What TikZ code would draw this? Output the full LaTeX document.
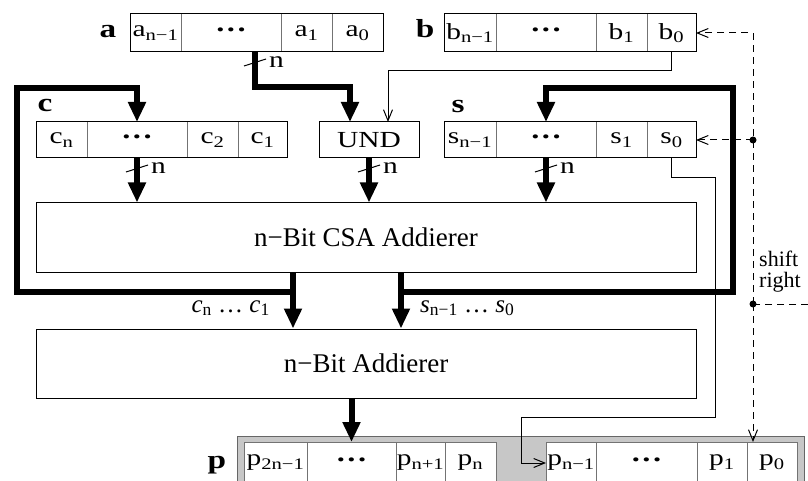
\documentclass[tikz,border=0pt]{standalone}
\usepackage{fontspec}
\setmainfont{Liberation Serif}
\newfontfamily\cellfont{Liberation Serif}[FakeStretch=1.28]
\usepackage{tikz}
\usetikzlibrary{calc,positioning,arrows.meta}
\tikzstyle{cell} = [draw=black!55, line width=1pt, fill=white, minimum height=38pt, inner sep=0pt, outer sep=0pt, font=\cellfont\fontsize{23}{25}\selectfont]
\tikzstyle{rcell} = [cell, right=0pt of #1]
\tikzstyle{regframe} = [draw, line width=1pt]
\tikzstyle{adder} = [draw, line width=1pt, minimum width=660pt, minimum height=69pt, inner sep=0pt, font=\fontsize{27}{30}\selectfont]
\tikzstyle{busline} = [line width=6pt]
\tikzstyle{bus} = [busline, -{Triangle[width=17pt,length=20pt]}]
\tikzstyle{wire} = [line width=1pt, -{Straight Barb[length=11pt,width=9pt]}]
\tikzstyle{ctrl} = [wire, dash pattern=on 7pt off 5pt]
\tikzstyle{regname} = [anchor=base, inner sep=0pt, font=\cellfont\fontsize{26}{28}\selectfont\bfseries]
\tikzstyle{lbl} = [inner sep=0pt, font=\cellfont\fontsize{23}{25}\selectfont]
\newcommand{\sub}[1]{\textsubscript{#1}}
\newcommand{\ddd}{\raisebox{2pt}{\fontsize{17}{17}\selectfont\textbullet\hspace{3pt}\textbullet\hspace{3pt}\textbullet}}
\newcommand{\nmark}[1]{\draw[line width=1pt] ($(#1)+(-11,4)$) -- ($(#1)+(11,-3)$); \node[lbl, anchor=west] at ($(#1)+(14,0)$) {n};}

\begin{document}
\begin{tikzpicture}[x=1pt, y=-1pt, line join=miter]
    \useasboundingbox (0,0) rectangle (808,481);
    \clip (0,0) rectangle (808,481);

    \node[cell, minimum width=51pt] (a3) at (155.5,33) {a\sub{n−1}};
    \node[rcell=a3, minimum width=100pt] (aD) {\ddd};
    \node[rcell=aD, minimum width=51pt] (a1) {a\sub{1}};
    \node[rcell=a1, minimum width=51pt] (a0) {a\sub{0}};
    \draw[regframe] (a3.north west) rectangle (a0.south east);
    \node[regname] (an) at (108,38) {a};

    \node[cell, minimum width=52pt] (b3) at (470,33) {b\sub{n−1}};
    \node[rcell=b3, minimum width=100pt] (bD) {\ddd};
    \node[rcell=bD, minimum width=51pt] (b1) {b\sub{1}};
    \node[rcell=b1, minimum width=49pt] (b0) {b\sub{0}};
    \draw[regframe] (b3.north west) rectangle (b0.south east);
    \node[regname] (bn) at (425,38) {b};

    \node[cell, minimum width=51pt, minimum height=36pt] (c3) at (61.5,140) {c\sub{n}};
    \node[rcell=c3, minimum width=100pt, minimum height=36pt] (cD) {\ddd};
    \node[rcell=cD, minimum width=51pt, minimum height=36pt] (c2) {c\sub{2}};
    \node[rcell=c2, minimum width=49pt, minimum height=36pt] (c1) {c\sub{1}};
    \draw[regframe] (c3.north west) rectangle (c1.south east);
    \node[regname] (cn) at (45,112) {c};

    \node[cell, draw=black, minimum width=100pt, minimum height=36pt] (und) at (369,140) {UND};

    \node[cell, minimum width=52pt, minimum height=36pt] (s3) at (470,140) {s\sub{n−1}};
    \node[rcell=s3, minimum width=100pt, minimum height=36pt] (sD) {\ddd};
    \node[rcell=sD, minimum width=51pt, minimum height=36pt] (s1) {s\sub{1}};
    \node[rcell=s1, minimum width=49pt, minimum height=36pt] (s0) {s\sub{0}};
    \draw[regframe] (s3.north west) rectangle (s0.south east);
    \node[regname] (sn) at (458,113) {s};

    \node[adder] (csa) at (366,237.5) {n−Bit CSA Addierer};
    \node[adder] (add) at (366,363.5) {n−Bit Addierer};

    \draw[line width=1pt, draw=black!60, fill=black!22] (237,436) rectangle (804,500);
    \node[cell, minimum width=63pt, minimum height=42pt] (p7) at (275.5,463) {p\sub{2n−1}};
    \node[rcell=p7, minimum width=89pt, minimum height=42pt] (pD) {\ddd};
    \node[rcell=pD, minimum width=49pt, minimum height=42pt] (p5) {p\sub{n+1}};
    \node[rcell=p5, minimum width=51pt, minimum height=42pt] (p4) {p\sub{n}};
    \node[cell, minimum width=50pt, minimum height=42pt] (p3) at (571,463) {p\sub{n−1}};
    \node[rcell=p3, minimum width=101pt, minimum height=42pt] (pE) {\ddd};
    \node[rcell=pE, minimum width=50pt, minimum height=42pt] (p1) {p\sub{1}};
    \node[rcell=p1, minimum width=50pt, minimum height=42pt] (p0) {p\sub{0}};
    \node[regname] (pn) at (217,468) {p};

    \draw[bus] ($(aD.south)+(24,0)$) -- ++(0,35) -| ($(und.north)+(-19,0)$);
    \nmark{$(aD.south)+(24,10)$}
    \draw[bus] (cD.south) -- (cD.south |- csa.north);
    \nmark{$(cD.south)+(0,10)$}
    \draw[bus] (und.south) -- (und.south |- csa.north);
    \nmark{$(und.south)+(0,10)$}
    \draw[bus] (sD.south) -- (sD.south |- csa.north);
    \nmark{$(sD.south)+(0,10)$}

    \coordinate (cbr) at ($(csa.south)+(-73,19)$);
    \coordinate (sbr) at ($(csa.south)+(35,19)$);
    \draw[bus] ($(csa.south)+(-73,0)$) -- (cbr |- add.north);
    \draw[bus] ($(csa.south)+(35,0)$) -- (sbr |- add.north);
    \draw[bus] (cbr) -| (17,88) -| (cD.north);
    \draw[bus] (sbr) -| (733,88) -| (sD.north);
    \node[lbl, anchor=base east, font=\fontsize{25}{27}\selectfont] (cl) at (270,312) {\textit{c}\sub{n} … \textit{c}\sub{1}};
    \node[lbl, anchor=base west, font=\fontsize{25}{27}\selectfont] (sl) at (420,312) {\textit{s}\sub{n−1} … \textit{s}\sub{0}};
    \draw[bus] (add.south -| pD.north) -- (pD.north);

    \draw[wire] (b0.south) -- ++(0,19) -| ($(und.north)+(19,0)$);
    \draw[wire] (s0.south) |- (715,178) |- (521,417) |- (p3.west);

    \coordinate (sr) at (753,304);
    \coordinate (sj) at (753,140);
    \draw[dash pattern=on 7pt off 5pt, line width=1pt] (808,304) -- (sr);
    \draw[ctrl] (sr) |- (b0.east);
    \draw[ctrl] (sj) -- (s0.east);
    \draw[ctrl] (sr) -- (sr |- p0.north);
    \fill (sr) circle (3.5pt);
    \fill (sj) circle (3.5pt);
    \node[lbl, align=left, anchor=north west, font=\fontsize{22}{21}\selectfont] (srl) at (759,251) {shift\\right};
\end{tikzpicture}
\end{document}
